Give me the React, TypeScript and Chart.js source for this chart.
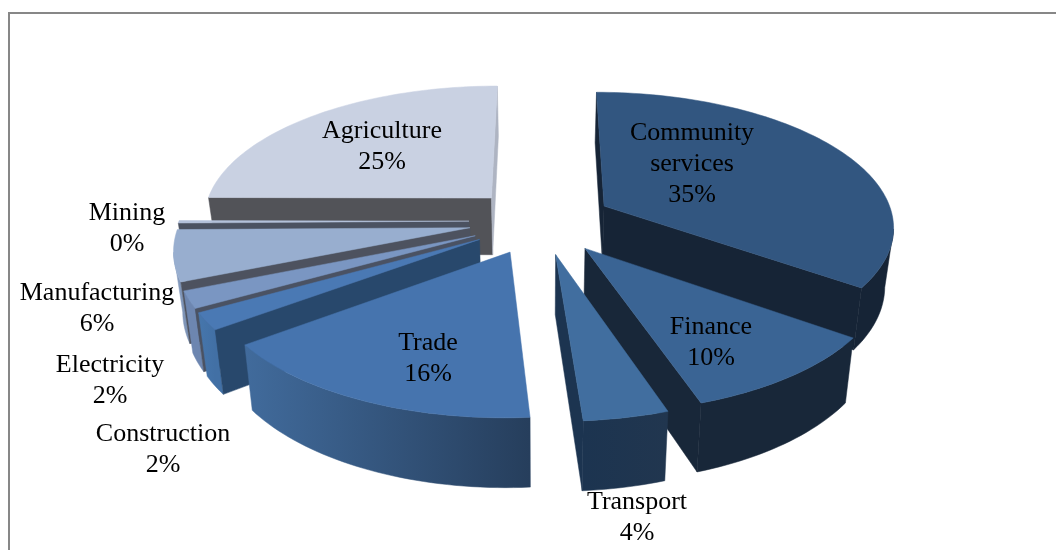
import React, { useEffect, useRef } from "react";
import { Chart, registerables } from "chart.js";

Chart.register(...registerables);

// Share of each sector, clockwise from twelve o'clock.
const categories = [
  "Community services",
  "Finance",
  "Transport",
  "Trade",
  "Construction",
  "Electricity",
  "Manufacturing",
  "Mining",
  "Agriculture",
];
const shares = [35, 10, 4, 16, 2, 2, 6, 0.3, 25];

// Surface colours for each slice.
const topColors = ["#325680", "#3a6494", "#416e9f", "#4674ae", "#4a79b4", "#7a96c2", "#98aecf", "#b3c1da", "#c9d1e2"];
const wallColors = ["#162436", "#182739", "#1c3450", "#263e5c", "#28486c", "#4a5263", "#4d525f", "#4b5261", "#525358"];
const rimLeftColors = ["#162436", "#182739", "#1c3450", "#416b9c", "#4676ac", "#6d86b0", "#8ea4c6", "#a0aec8", "#aeb4c2"];
const rimRightColors = ["#162436", "#182739", "#21364f", "#263e5c", "#4270a5", "#6d86b0", "#7f95b8", "#a0aec8", "#aeb4c2"];
const closingWallColors = ["#162436", "#182739", "#1c3450", "#263e5c", "#28486c", "#4a5263", "#4d525f", "#4b5261", "#aeb4c2"];

// Centre of each label block on the page.
const labelAnchors = [
  [692, 164],
  [711, 343],
  [637, 518],
  [428, 359],
  [163, 450],
  [110, 381],
  [97, 309],
  [127, 229],
  [382, 147],
];

// Oblique view of the pie plane.
const TILT = 0.46;
const VIEW_DISTANCE = 2100;
const DEPTH = 58;
const BASE_SHRINK = 0.975;

const pie3d = {
  id: "pie3d",
  beforeDraw(chart: any) {
    const { ctx } = chart;
    ctx.save();
    ctx.strokeStyle = "#878787";
    ctx.lineWidth = 2;
    ctx.beginPath();
    ctx.moveTo(9, 560);
    ctx.lineTo(9, 13);
    ctx.lineTo(1060, 13);
    ctx.stroke();
    ctx.restore();
  },
  // The arcs are painted here in projection, so the flat drawing is skipped.
  beforeDatasetDraw(chart: any) {
    const { ctx } = chart;
    const arcs = chart.getDatasetMeta(0).data as any[];

    const slices = arcs.map((arc, index) => {
      const { x, y, startAngle, endAngle, outerRadius } = arc.getProps(
        ["x", "y", "startAngle", "endAngle", "outerRadius"],
        true
      );
      const mid = (startAngle + endAngle) / 2;
      const shift = arc.options.offset || 0;
      const px = Math.cos(mid) * shift;
      const py = Math.sin(mid) * shift;
      const project = (planeX: number, planeY: number) => {
        const s = 1 / (1 - planeY / VIEW_DISTANCE);
        const sx = x + planeX * s;
        const sy = y + planeY * TILT * s;
        return {
          x: sx,
          y: sy,
          bx: x + (sx - x) * BASE_SHRINK,
          by: sy + DEPTH * s,
        };
      };
      const steps = Math.max(4, Math.ceil((endAngle - startAngle) * 40));
      const rim = [];
      for (let i = 0; i <= steps; i++) {
        const a = startAngle + ((endAngle - startAngle) * i) / steps;
        rim.push(project(px + Math.cos(a) * outerRadius, py + Math.sin(a) * outerRadius));
      }
      return { index, apex: project(px, py), rim, depthKey: Math.sin(mid) };
    });

    slices.sort((a, b) => a.depthKey - b.depthKey);

    const fillPoly = (points: number[][], style: any) => {
      ctx.beginPath();
      points.forEach(([px, py], i) => (i ? ctx.lineTo(px, py) : ctx.moveTo(px, py)));
      ctx.closePath();
      ctx.fillStyle = style;
      ctx.strokeStyle = style;
      ctx.lineWidth = 0.5;
      ctx.fill();
      ctx.stroke();
    };

    ctx.save();
    for (const { index, apex, rim } of slices) {
      const inner = rim[Math.floor(rim.length / 2)];
      const wall = (edge: any, style: string) => {
        const ex = edge.x - apex.x;
        const ey = edge.y - apex.y;
        const sideInner = ex * (inner.y - apex.y) - ey * (inner.x - apex.x);
        const sideDown = ex * (apex.by - apex.y) - ey * (apex.bx - apex.x);
        if (sideInner * sideDown < 0) {
          fillPoly(
            [
              [apex.x, apex.y],
              [edge.x, edge.y],
              [edge.bx, edge.by],
              [apex.bx, apex.by],
            ],
            style
          );
        }
      };

      // Outer rim: only the stretch that runs right to left faces the viewer.
      const front = rim.filter((p, i) => {
        const prev = rim[i - 1];
        const next = rim[i + 1];
        return (next && next.x < p.x) || (prev && p.x < prev.x);
      });
      if (front.length > 1) {
        const xs = front.map((p) => p.x);
        const gradient = ctx.createLinearGradient(Math.min(...xs), 0, Math.max(...xs), 0);
        gradient.addColorStop(0, rimLeftColors[index]);
        gradient.addColorStop(1, rimRightColors[index]);
        fillPoly(
          [...front.map((p) => [p.x, p.y]), ...[...front].reverse().map((p) => [p.bx, p.by])],
          gradient
        );
      }

      wall(rim[0], wallColors[index]);
      wall(rim[rim.length - 1], closingWallColors[index]);

      fillPoly([[apex.x, apex.y], ...rim.map((p) => [p.x, p.y])], topColors[index]);
    }
    ctx.restore();
    return false;
  },
  afterDraw(chart: any) {
    const { ctx } = chart;
    ctx.save();
    ctx.font = '26px "Liberation Serif"';
    ctx.fillStyle = "#000000";
    ctx.textAlign = "center";
    ctx.textBaseline = "middle";
    categories.forEach((name, i) => {
      const wrapped = name === "Community services" ? name.split(" ") : [name];
      const lines = [...wrapped, `${Math.round(shares[i])}%`];
      const [cx, cy] = labelAnchors[i];
      lines.forEach((line, row) => {
        ctx.fillText(line, cx, cy + (row - (lines.length - 1) / 2) * 31);
      });
    });
    ctx.restore();
  },
};

export default function App() {
  const canvasRef = useRef<HTMLCanvasElement>(null);

  useEffect(() => {
    const chart = new Chart(canvasRef.current as HTMLCanvasElement, {
      type: "pie",
      data: {
        labels: categories,
        datasets: [{ data: shares, offset: 72, borderWidth: 0 }],
      },
      options: {
        responsive: false,
        animation: false,
        rotation: 0,
        radius: 290,
        layout: { padding: { left: 26, bottom: 108 } },
        plugins: { legend: { display: false }, tooltip: { enabled: false } },
      },
      plugins: [pie3d],
    } as any);
    return () => chart.destroy();
  }, []);

  return (
    <canvas
      ref={canvasRef}
      width={1056}
      height={550}
      style={{ position: "absolute", left: 0, top: 0, display: "block" }}
    />
  );
}
